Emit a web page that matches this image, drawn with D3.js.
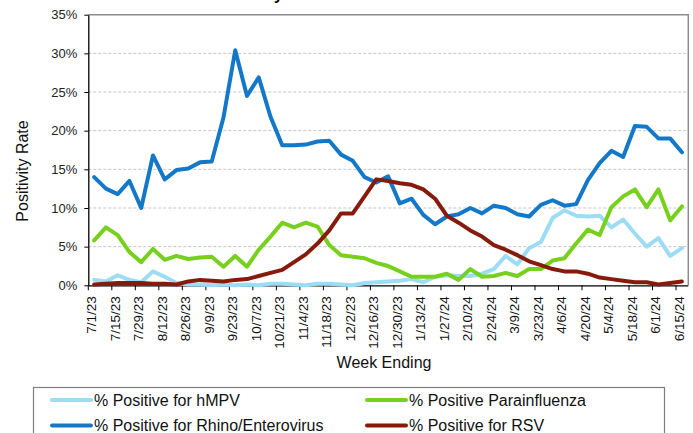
<!DOCTYPE html>
<html>
<head>
<meta charset="utf-8">
<script src="https://cdn.jsdelivr.net/npm/d3@7"></script>
<style>
  body { margin: 0; background: #fff; }
  svg { display: block; font-family: Arial, "Liberation Sans", sans-serif; }
</style>
</head>
<body>
<svg id="chart" width="693" height="433"></svg>
<script>
// week ending dates, 7/1/23 .. 6/15/24
var weeks = [];
var start = new Date(2023, 6, 1);
for (var i = 0; i < 51; i++) {
	var d = new Date(start.getTime());
	d.setDate(start.getDate() + 7 * i);
	weeks.push((d.getMonth() + 1) + "/" + d.getDate() + "/" + String(d.getFullYear()).slice(2));
}

var hmpv = [0.7, 0.5, 1.3, 0.7, 0.4, 1.8, 1.1, 0.3, 0.1, 0.1,
	0.0, 0.1, 0.0, 0.1, 0.0, 0.2, 0.2, 0.1, 0.0, 0.2,
	0.2, 0.1, 0.0, 0.3, 0.4, 0.5, 0.6, 0.8, 0.4, 1.1,
	1.3, 1.2, 1.2, 1.5, 2.1, 3.8, 2.7, 4.8, 5.6, 8.7,
	9.7, 9.0, 8.9, 9.0, 7.5, 8.5, 6.7, 5.0, 6.1, 3.8, 4.8];
var para = [5.8, 7.5, 6.5, 4.3, 3.0, 4.7, 3.3, 3.8, 3.4, 3.6,
	3.7, 2.4, 3.8, 2.4, 4.6, 6.3, 8.1, 7.5, 8.1, 7.6,
	5.2, 3.9, 3.7, 3.5, 2.9, 2.5, 1.8, 1.1, 1.1, 1.1,
	1.5, 0.7, 2.1, 1.1, 1.2, 1.6, 1.2, 2.1, 2.1, 3.2,
	3.5, 5.4, 7.2, 6.5, 10.1, 11.5, 12.4, 10.1, 12.4, 8.4, 10.2];
var rhino = [14.0, 12.5, 11.8, 13.5, 10.0, 16.8, 13.7, 14.9, 15.1, 15.9,
	16.0, 21.7, 30.4, 24.5, 26.9, 21.8, 18.1, 18.1, 18.2, 18.6,
	18.7, 16.9, 16.1, 14.0, 13.3, 14.1, 10.6, 11.2, 9.1, 7.9,
	8.9, 9.2, 10.0, 9.3, 10.3, 10.0, 9.2, 8.9, 10.4, 11.0,
	10.3, 10.5, 13.6, 15.8, 17.4, 16.6, 20.6, 20.5, 19.0, 19.0, 17.2];
var rsv = [0.1, 0.2, 0.3, 0.3, 0.3, 0.2, 0.2, 0.1, 0.5, 0.7,
	0.6, 0.5, 0.7, 0.8, 1.2, 1.6, 2.0, 3.0, 4.0, 5.4,
	7.1, 9.3, 9.3, 11.5, 13.7, 13.5, 13.2, 13.0, 12.4, 11.2,
	9.0, 8.1, 7.1, 6.3, 5.2, 4.6, 3.9, 3.1, 2.6, 2.1,
	1.8, 1.8, 1.5, 1.0, 0.8, 0.6, 0.4, 0.4, 0.1, 0.3, 0.5];

var yTicks = [0, 5, 10, 15, 20, 25, 30, 35];

var series = [
	{ name: "% Positive for hMPV", values: hmpv, color: "#9cdcf5" },
	{ name: "% Positive for Rhino/Enterovirus", values: rhino, color: "#1478c8" },
	{ name: "% Positive Parainfluenza", values: para, color: "#78d01e" },
	{ name: "% Positive for RSV", values: rsv, color: "#861b0c" }
];

var svg = d3.select("#chart");
// note: "top" is taken by window.top, so use plot* names
var plotL = 88.3, plotR = 687.8, plotT = 14.7, plotB = 285.3;

var x = d3.scaleBand().domain(weeks).range([plotL, plotR]).padding(0);
var y = d3.scaleLinear().domain([0, 35]).range([plotB, plotT]);

// cut-off title (only descenders visible)
svg.append("text")
	.attr("x", 283).attr("y", -0.5)
	.attr("text-anchor", "end")
	.style("font-size", "16px").style("font-weight", "bold")
	.text("Percent Positivity");

// gridlines
svg.append("g").selectAll("line")
	.data(yTicks.slice(1, -1))
	.enter().append("line")
		.attr("x1", plotL).attr("x2", plotR)
		.attr("y1", function(d) { return y(d); })
		.attr("y2", function(d) { return y(d); })
		.attr("stroke", "#c4c4c4")
		.attr("stroke-dasharray", "3,2");

// plot border top/right
svg.append("path")
	.attr("d", "M" + plotL + "," + plotT + "H" + (plotR + 0.5) + "V" + plotB)
	.attr("fill", "none")
	.attr("stroke", "#8c8c8c")
	.attr("stroke-width", 1.5);

// y axis
var yAxis = svg.append("g")
	.attr("transform", "translate(" + plotL + ",0)")
	.call(d3.axisLeft(y).tickValues(yTicks).tickFormat(function(d) { return d + "%"; }).tickSize(4).tickSizeOuter(0).tickPadding(7));
yAxis.select(".domain").attr("stroke", "#000").attr("stroke-width", 1.3);
yAxis.selectAll(".tick line").attr("stroke", "#000");
yAxis.selectAll("text").style("font-size", "13px").style("font-family", "Arial, 'Liberation Sans'").attr("fill", "#222");

// x axis labels, every 2nd week
var xAxis = svg.append("g")
	.attr("transform", "translate(0," + plotB + ")")
	.call(d3.axisBottom(x).tickValues(weeks.filter(function(d, i) { return i % 2 == 0; })).tickSize(0).tickSizeOuter(0));
xAxis.select(".domain").attr("stroke", "#000").attr("stroke-width", 1.3);
xAxis.selectAll("text")
	.style("font-size", "13.5px").style("font-family", "Arial, 'Liberation Sans'")
	.attr("fill", "#111")
	.attr("text-anchor", "end")
	.attr("y", 0).attr("dy", "0.15em")
	.attr("transform", "translate(0,11) rotate(-90)");

// x tick marks sit on the category boundaries
xAxis.selectAll(".bnd")
	.data(weeks.filter(function(d, i) { return i % 2 == 0; }))
	.enter().append("line")
		.attr("class", "bnd")
		.attr("x1", function(d) { return x(d); })
		.attr("x2", function(d) { return x(d); })
		.attr("y1", 0).attr("y2", 5)
		.attr("stroke", "#000");

// axis titles
svg.append("text")
	.attr("transform", "translate(28,171) rotate(-90)")
	.attr("text-anchor", "middle")
	.style("font-size", "16px")
	.attr("fill", "#111")
	.text("Positivity Rate");

svg.append("text")
	.attr("x", 384).attr("y", 368)
	.attr("text-anchor", "middle")
	.style("font-size", "16px")
	.attr("fill", "#111")
	.text("Week Ending");

// lines
var line = d3.line()
	.x(function(d, i) { return x(weeks[i]) + x.bandwidth() / 2; })
	.y(function(d) { return y(d); });

svg.append("g").selectAll("path")
	.data(series)
	.enter().append("path")
		.attr("d", function(s) { return line(s.values); })
		.attr("fill", "none")
		.attr("stroke", function(s) { return s.color; })
		.attr("stroke-width", 4)
		.attr("stroke-linejoin", "round")
		.attr("stroke-linecap", "round");

// legend
svg.append("rect")
	.attr("x", 33.5).attr("y", 387.5)
	.attr("width", 631).attr("height", 60)
	.attr("fill", "#fff")
	.attr("stroke", "#7f7f7f")
	.attr("stroke-width", 1.2);

var legendPos = [[52, 400], [52, 425.5], [367, 400], [367, 425.5]];
var leg = svg.append("g").selectAll("g")
	.data(series)
	.enter().append("g")
		.attr("transform", function(s, i) { return "translate(" + legendPos[i][0] + "," + legendPos[i][1] + ")"; });
leg.append("line")
	.attr("x1", 0).attr("x2", 39)
	.attr("stroke", function(s) { return s.color; })
	.attr("stroke-width", 4)
	.attr("stroke-linecap", "round");
leg.append("text")
	.attr("x", 42).attr("dy", "0.36em")
	.style("font-size", "16px")
	.attr("fill", "#111")
	.text(function(s) { return s.name; });
</script>
</body>
</html>
